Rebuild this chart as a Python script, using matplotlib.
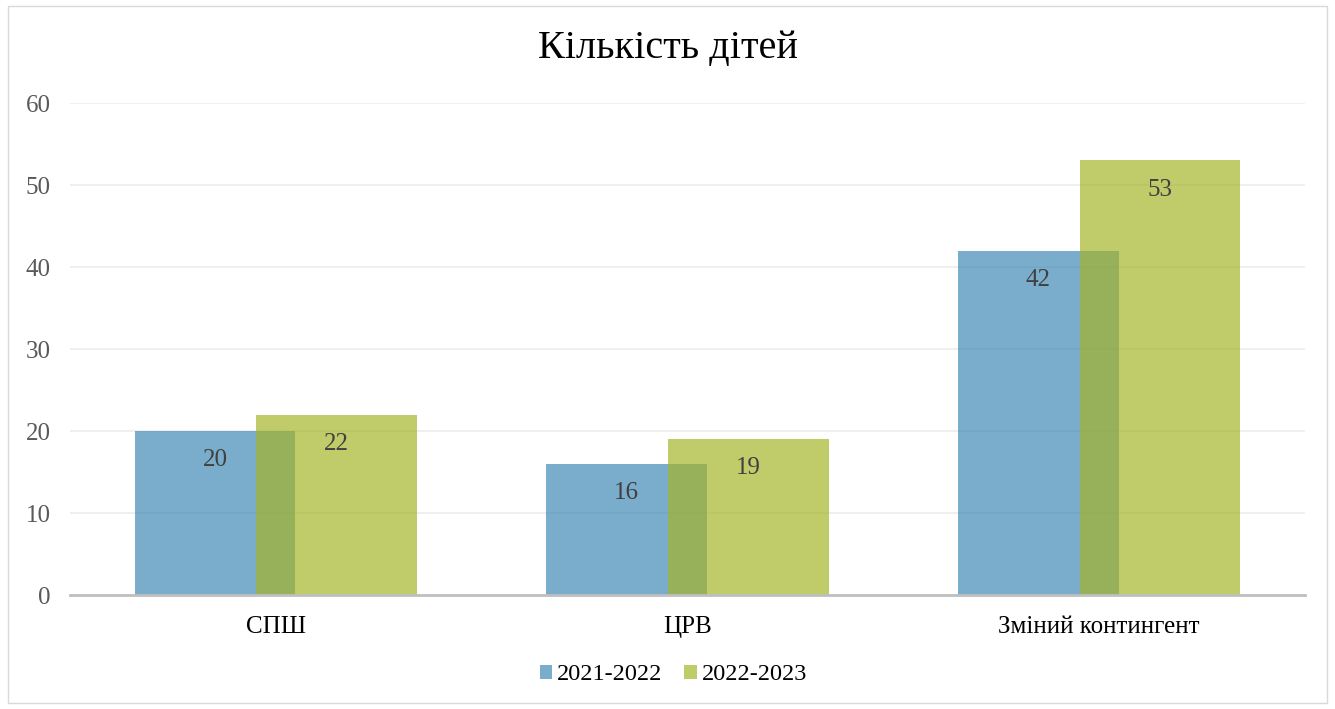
import matplotlib.pyplot as plt
from matplotlib.patches import Rectangle
import numpy as np

categories = ["СПШ", "ЦРВ", "Зміний контингент"]
series_names = ["2021-2022", "2022-2023"]
values_2122 = [20, 16, 42]
values_2223 = [22, 19, 53]
y_ticks = [0, 10, 20, 30, 40, 50, 60]

plt.rcParams['font.family'] = ['Liberation Serif', 'DejaVu Serif']

fig = plt.figure(figsize=(13.35, 7.09), dpi=100)
ax = fig.add_axes([70 / 1335, 1 - 595 / 709, 1235 / 1335, 492 / 709])

# border around the chart
fig.patches.append(Rectangle((8 / 1335, 6 / 709), 1319 / 1335, 697 / 709,
                             transform=fig.transFigure, fill=False,
                             edgecolor="#d9d9d9", linewidth=1.0))

x = np.arange(len(categories))
width = 0.39
offset = 0.148
alpha = 0.69
blue = "#3e87b4"
green = "#a4b426"

b1 = ax.bar(x - offset, values_2122, width, color=blue, alpha=alpha,
            label=series_names[0], zorder=2)
b2 = ax.bar(x + offset, values_2223, width, color=green, alpha=alpha,
            label=series_names[1], zorder=3)

for bars in (b1, b2):
    for rect in bars:
        h = rect.get_height()
        ax.annotate(f"{h:g}", (rect.get_x() + rect.get_width() / 2, h),
                    xytext=(0, -21), textcoords="offset points",
                    ha="center", va="center", fontsize=18, color="#404040",
                    zorder=5)

ax.set_xlim(-0.5, 2.5)
ax.set_ylim(0, 60)
ax.set_yticks(y_ticks)
ax.set_xticks(x)
ax.set_xticklabels(categories, fontsize=18, color="#000000")
ax.tick_params(axis="y", labelsize=18, labelcolor="#595959", length=0, pad=14)
ax.tick_params(axis="x", length=0, pad=15)
ax.grid(axis="y", color="#ececec", linewidth=1.2, zorder=0)
ax.set_axisbelow(True)
for s in ["top", "right", "left"]:
    ax.spines[s].set_visible(False)
ax.spines["bottom"].set_color("#bfbfbf")
ax.spines["bottom"].set_linewidth(2)
ax.spines["bottom"].set_zorder(4)

fig.text(0.5, 1 - 48 / 709, "Кількість дітей", ha="center", va="center",
         fontsize=29, color="#000000")

leg = fig.legend(loc="center", bbox_to_anchor=(0.5 + 6 / 1335, 1 - 675 / 709), ncol=2,
                 frameon=False, fontsize=17.5, handlelength=0.5, handleheight=0.5,
                 handletextpad=0.2, columnspacing=0.9)

fig.savefig("out.png", dpi=100)
